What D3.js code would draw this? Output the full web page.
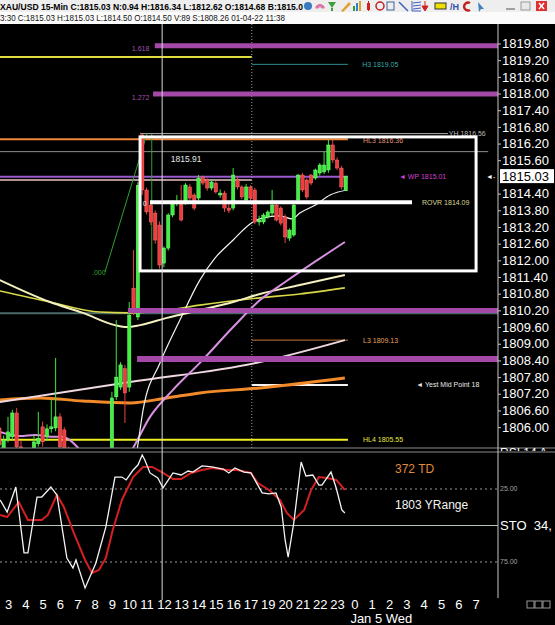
<!DOCTYPE html>
<html>
<head>
<meta charset="utf-8">
<script src="https://cdn.jsdelivr.net/npm/d3@7"></script>
<style>
html, body { margin: 0; padding: 0; background: #000; }
svg { display: block; font-family: "Liberation Sans", Arial, sans-serif; }
</style>
</head>
<body>
<div id="chart"></div>
<script>
// ---- data ----
var headerTitle = "XAU/USD  15-Min  C:1815.03  N:0.94  H:1816.34  L:1812.62  O:1814.68  B:1815.0";
var headerBar = "3:30  C:1815.03  H:1815.03  L:1814.50  O:1814.50  V:89  S:1808.26  01-04-22  11:38";

var hourLabels = ["3","4","5","6","7","8","9","10","11","12","13","14","15","16","17",
                  "19","20","21","22","23","0","1","2","3","4","5","6","7"];
var priceTicks = [1819.80,1819.20,1818.60,1818.00,1817.40,1816.80,1816.20,1815.60,
                  1814.40,1813.80,1813.20,1812.60,1812.00,1811.40,1810.80,1810.20,
                  1809.60,1809.00,1808.40,1807.80,1807.20,1806.60,1806.00];
var lastPrice = 1815.03;

// 15-min bars, first bar is slot -2 (slot 0 = 03:00)
var firstSlot = -2;
var opens  = [1805.97,1805.20,1805.54,1805.65,1806.51,1805.29,1805.00,1804.70,1804.90,1805.40,1806.01,1805.65,1805.94,1805.97,1806.37,1805.90,
              1805.20,1804.60,1804.20,1803.90,1803.50,1803.10,1803.40,1803.80,1804.20,1804.50,1804.80,1807.09,1807.44,1808.10,1807.44,1811.00,
              1809.96,1816.51,1814.53,1813.99,1813.70,1813.27,1811.90,1812.44,1813.63,1814.06,1814.10,1814.10,1814.64,1814.35,1814.24,1815.00,
              1814.89,1814.60,1814.78,1814.35,1814.42,1813.88,1813.88,1814.89,1814.64,1814.17,1814.64,1814.53,1813.38,1813.38,1813.56,1813.70,
              1813.99,1813.88,1813.56,1812.80,1812.91,1814.17,1815.07,1814.89,1815.07,1814.96,1815.14,1815.18,1815.25,1816.15,1815.61,1815.32,1814.50];
var highs  = [1807.16,1805.70,1806.37,1806.62,1806.69,1805.50,1805.20,1805.20,1805.72,1806.55,1806.20,1806.10,1806.98,1808.49,1806.50,1806.00,
              1805.30,1804.90,1804.50,1804.30,1803.80,1803.60,1804.00,1804.40,1804.80,1805.00,1807.27,1809.85,1808.34,1808.24,1810.50,1812.37,
              1814.81,1816.56,1814.62,1814.10,1813.80,1813.40,1812.50,1813.70,1814.15,1814.35,1814.71,1814.78,1814.75,1814.42,1815.07,1815.05,
              1814.95,1814.90,1814.85,1814.55,1814.50,1814.05,1815.32,1815.00,1814.70,1814.75,1814.70,1814.60,1813.60,1813.70,1813.80,1814.53,
              1814.10,1813.95,1813.65,1813.15,1814.05,1815.10,1815.15,1814.95,1815.10,1815.30,1815.50,1815.90,1816.34,1816.33,1815.70,1815.40,1815.03];
var lows   = [1805.18,1805.10,1805.45,1805.54,1805.18,1804.80,1804.40,1804.50,1804.80,1805.30,1805.30,1805.50,1805.80,1805.85,1805.10,1804.90,
              1804.40,1804.00,1803.60,1803.30,1802.90,1802.70,1803.20,1803.50,1803.90,1804.20,1804.70,1806.98,1807.34,1806.15,1807.27,1810.03,
              1809.85,1814.35,1813.65,1813.27,1812.60,1811.70,1811.75,1812.35,1813.55,1813.95,1813.40,1814.00,1814.15,1813.80,1814.15,1814.70,
              1814.50,1814.52,1814.40,1814.25,1813.74,1813.70,1813.80,1814.55,1814.20,1814.10,1814.15,1813.30,1813.25,1813.30,1813.50,1813.60,
              1813.40,1813.25,1812.62,1812.70,1812.85,1814.05,1814.45,1814.20,1814.70,1814.90,1815.05,1815.10,1815.15,1815.50,1815.25,1814.55,1814.50];
var closes = [1805.36,1805.54,1805.83,1806.51,1805.29,1805.00,1804.70,1805.00,1805.47,1805.60,1805.47,1805.94,1806.01,1806.37,1805.29,1805.18,
              1804.60,1804.20,1803.90,1803.50,1803.10,1803.40,1803.80,1804.20,1804.50,1804.80,1807.05,1807.80,1808.24,1807.23,1810.03,1810.21,
              1814.70,1814.53,1813.74,1813.38,1812.73,1811.83,1812.44,1813.63,1814.06,1814.12,1813.45,1814.71,1814.24,1813.88,1814.96,1814.78,
              1814.60,1814.82,1814.46,1814.42,1813.88,1813.80,1815.07,1814.64,1814.28,1814.64,1814.24,1813.38,1813.45,1813.63,1813.74,1813.99,
              1813.45,1813.34,1812.84,1813.09,1813.99,1815.07,1814.53,1814.28,1814.78,1815.25,1815.43,1815.43,1816.15,1815.61,1815.32,1814.64,1815.03];

// moving averages, [slot, price]
var maCream  = [[-1.9,1811.29],[9.7,1810.50],[17.3,1810.11],[24.7,1809.67],[27.5,1809.60],[30.5,1809.67],[36.7,1809.93],[44.3,1810.21],[52,1810.50],[58.2,1810.79],[67.4,1811.11],[77.8,1811.47]];
var maYellow = [[-1.9,1810.90],[9.7,1810.50],[21.2,1810.14],[28.2,1810.11],[36.7,1810.21],[44.3,1810.39],[58.2,1810.65],[67.4,1810.79],[77.8,1811.01]];
var maOrange = [[-1.9,1806.98],[7.4,1807.05],[17.3,1806.94],[28.2,1806.87],[36.7,1807.05],[44.3,1807.23],[58.2,1807.41],[77.8,1807.77]];
var maPink   = [[-1.9,1806.90],[28.2,1807.62],[58.2,1808.34],[77.8,1809.13]];
var maLavender = [[-1.9,1805.83],[2.8,1805.68],[6.2,1805.72],[10.9,1805.65],[12.5,1805.65],[14.8,1805.47],[16.6,1805.18],[20.1,1804.46],[24.7,1804.39],
                  [28.6,1805.18],[32.8,1806.37],[38.1,1807.34],[44.3,1808.31],[52,1809.60],[58.2,1810.57],[64,1811.22],[77.8,1812.66]];
var maWhite  = [[27.7,1803.74],[29.8,1805.18],[31.2,1806.62],[35.1,1808.31],[39.7,1809.85],[44.3,1811.29],[47.8,1812.08],[52,1812.73],[55.9,1813.31],
                [58.7,1813.52],[62.8,1813.60],[65.6,1813.49],[67.4,1813.70],[71,1813.99],[74.4,1814.35],[78.3,1814.53]];

// horizontal levels
var levels = [
  { name: "fib1618",  price: 1819.72, label: "1.618" },
  { name: "prevLine", price: 1819.31, label: "" },
  { name: "H3",       price: 1819.05, label: "H3 1819.05" },
  { name: "fib1272",  price: 1817.98, label: "1.272" },
  { name: "YH",       price: 1816.56, label: "YH 1816.56" },
  { name: "HL3",      price: 1816.36, label: "HL3 1816.36" },
  { name: "prevClose",price: 1815.91, label: "1815.91" },
  { name: "WP",       price: 1815.01, label: "\u25C4  WP 1815.01" },
  { name: "pinkLine", price: 1814.89, label: "" },
  { name: "ROVR",     price: 1814.09, label: "ROVR 1814.09" },
  { name: "tealLine", price: 1810.10, label: "" },
  { name: "bar1810",  price: 1810.20, label: "" },
  { name: "L3",       price: 1809.13, label: "L3 1809.13" },
  { name: "bar1808",  price: 1808.45, label: "" },
  { name: "YMid",     price: 1807.52, label: "\u25C4 Yest Mid Point 18" },
  { name: "HL4",      price: 1805.55, label: "HL4 1805.55" }
];
var boxPrices = [1816.44, 1811.62];
var fibPrices = [1811.58, 1816.55];

// stochastic (inverted scale as on the chart), [slot, value]
var stoK = [[-1.8,32.5],[-0.2,40.8],[1.8,23.6],[3.7,68.8],[4.6,68.8],[6.7,30.5],[7.8,30.5],[9.9,23.6],[11.3,29.1],[13.6,72.3],[15,79.1],[15.7,73.6],
            [17.8,92.8],[20.3,75.7],[22.6,51],[24.7,16.8],[26.3,16.8],[27.3,18.8],[28.9,12],[30,8.6],[31,1.7],[31.6,5.1],[32.8,14],[34.6,17.5],
            [35.8,24.3],[38.1,14],[40,15.4],[41.6,12.7],[42.7,13.4],[44.8,9.2],[47.1,9.9],[49.7,11.3],[51,14],[52.4,10.6],[54.5,13.4],[56.1,14],
            [58.7,27.7],[60.3,28.4],[61.9,27.7],[63.1,37.3],[64,59.9],[64.7,71.6],[66,48.3],[67.7,6.5],[68.8,16.1],[70.4,15.4],[71.8,22.3],
            [72.5,22.3],[74.6,13.4],[75.8,24.3],[77.1,39.4],[77.8,41.4]];
var stoD = [[-1.8,42.8],[-0.2,44.2],[2.5,33.9],[4.6,46.2],[7.8,46.2],[9.2,42.8],[11.3,29.1],[12.9,37.3],[15.2,55.1],[17.8,73.6],[19.4,82.5],
            [21,80.5],[22.6,72.3],[24.2,53.1],[26.3,32.5],[28.9,16.8],[31.2,9.9],[33.3,9.9],[35.8,14],[38.1,18.2],[40,18.2],[42.3,14],[44.8,12],
            [47.1,10.6],[50.6,12],[52.9,12],[56.1,14],[57.7,20.9],[60.3,25.7],[62.8,32.5],[64.4,41.4],[66,46.2],[68.4,39.4],[70,25.7],[71.8,16.8],
            [73.7,17.5],[75.8,18.8],[77.8,25.7]];
var stoGrid = [25, 50, 75];
var sideNotes = ["372 TD", "1803 YRange"];

// ---- layout ----
var W = 555, H = 625, axisX = 498;
var svg = d3.select("#chart").append("svg").attr("width", W).attr("height", H);
svg.append("rect").attr("width", W).attr("height", H).attr("fill", "#000");

var x = d3.scaleLinear().domain([0, 112]).range([8, 8 + 112 * 4.33]);
var y = d3.scaleLinear().domain([1819.8, 1806.0]).range([43.5, 43.5 + 13.8 * 27.8]);
var ys = d3.scaleLinear().domain([0, 100]).range([452.5, 598.5]);

var defs = svg.append("defs");
defs.append("clipPath").attr("id", "mainClip").append("rect")
    .attr("x", 0).attr("y", 24).attr("width", axisX).attr("height", 424);
defs.append("clipPath").attr("id", "stoClip").append("rect")
    .attr("x", 0).attr("y", 453).attr("width", axisX).attr("height", 145);
defs.append("clipPath").attr("id", "rsiClip").append("rect")
    .attr("x", axisX).attr("y", 440).attr("width", 60).attr("height", 11);

// header rows
svg.append("rect").attr("width", W).attr("height", 12).attr("fill", "#eeeeee");
svg.append("rect").attr("y", 12).attr("width", W).attr("height", 12).attr("fill", "#fbfbfb");
svg.append("text").attr("x", 0).attr("y", 9.5).attr("font-size", 9.5).attr("font-weight", "bold")
    .attr("textLength", 303).attr("lengthAdjust", "spacingAndGlyphs").attr("fill", "#000").text(headerTitle);
svg.append("text").attr("x", 0).attr("y", 20.5).attr("font-size", 8.5)
    .attr("textLength", 285).attr("lengthAdjust", "spacingAndGlyphs").attr("fill", "#111").text(headerBar);

// toolbar icons (decoration)
var tb = svg.append("g");
tb.append("circle").attr("cx", 308).attr("cy", 6).attr("r", 4).attr("fill", "#3a7ac0");
[4, 3, 2].forEach(function(r) {
  tb.append("path").attr("d", d3.arc()({ innerRadius: r, outerRadius: r + 0.8, startAngle: -1.4, endAngle: 1.4 }))
    .attr("transform", "translate(320,9)").attr("fill", "#d04080");
});
tb.append("path").attr("d", "M328,2 L336,2 L332,8 Z M331,8 h2 v3 h-2 Z").attr("fill", "#3aa03a");
tb.append("path").attr("d", "M341,11 L349,2 L351,4 L343,12 Z").attr("fill", "#e0a030");
tb.append("rect").attr("x", 353).attr("y", 6).attr("width", 2).attr("height", 5).attr("fill", "#3a9a3a");
tb.append("rect").attr("x", 356).attr("y", 3).attr("width", 2).attr("height", 8).attr("fill", "#3080d0");
tb.append("rect").attr("x", 359).attr("y", 1).attr("width", 2).attr("height", 10).attr("fill", "#e0a020");
tb.append("rect").attr("x", 367).attr("y", 3).attr("width", 3).attr("height", 7).attr("fill", "#d02020");
tb.append("line").attr("x1", 368.5).attr("x2", 368.5).attr("y1", 1).attr("y2", 11).attr("stroke", "#d02020");
tb.append("circle").attr("cx", 380).attr("cy", 6).attr("r", 4).attr("fill", "none").attr("stroke", "#c02020").attr("stroke-width", 1.5);
tb.append("rect").attr("x", 387).attr("y", 2).attr("width", 7).attr("height", 8).attr("fill", "none").attr("stroke", "#4060a0");
tb.append("line").attr("x1", 399).attr("y1", 2).attr("x2", 408).attr("y2", 11).attr("stroke", "#4060c0").attr("stroke-width", 1.5);
tb.append("path").attr("d", "M412,1 v10 h9 M413,3 L421,2 M413,6 L421,5 M413,9 L421,8").attr("fill", "none").attr("stroke", "#4060c0");
tb.append("path").attr("d", "M425,1 v6 M422,6 L425,11 L428,6 Z").attr("fill", "#d02020").attr("stroke", "#d02020");
tb.append("rect").attr("x", 435).attr("y", 3).attr("width", 11).attr("height", 6).attr("fill", "#f0e000").attr("stroke", "#333");
tb.append("text").attr("x", 450).attr("y", 10).attr("font-size", 9).attr("font-weight", "bold").attr("fill", "#3050b0").text("/H");
tb.append("path").attr("d", "M470,3 A4,4 0 1,0 470,10").attr("fill", "none").attr("stroke", "#c02020").attr("stroke-width", 2.5);
tb.append("path").attr("d", "M478,2 L484,9 L481,9 L479,12 Z").attr("fill", "#4080c0");
tb.append("rect").attr("x", 506).attr("y", 8).attr("width", 9).attr("height", 2).attr("fill", "#a0a0a0");
tb.append("rect").attr("x", 521).attr("y", 2).attr("width", 9).attr("height", 8).attr("fill", "#e8e8e8").attr("stroke", "#999");
tb.append("rect").attr("x", 536).attr("y", 1).attr("width", 11).attr("height", 10).attr("fill", "#e03030");
tb.append("path").attr("d", "M539,3 L544,9 M544,3 L539,9").attr("stroke", "#fff").attr("stroke-width", 1.5);

// ---- main price panel ----
var main = svg.append("g").attr("clip-path", "url(#mainClip)");

var levelStyle = {
  fib1618:  { from: 33.9, to: 113.2, color: "#a449a8", w: 5, top: true,  lx: 28.6, lc: "#a050b0", dy: 3 },
  prevLine: { from: -2,   to: 56.3,  color: "#e0dc3c", w: 2 },
  H3:       { from: 56.3, to: 78.5,  color: "#2f8f8f", w: 1,   lx: 81.8, lc: "#3aa8a8" },
  fib1272:  { from: 33.5, to: 113.2, color: "#a449a8", w: 5, top: true,  lx: 28.6, lc: "#a050b0", dy: 3 },
  YH:       { from: 30.5, to: 101.6, color: "#a8a8a8", w: 1,   lx: 101.8, lc: "#b8b8b8" },
  HL3:      { from: -2,   to: 78.5,  color: "#f0873a", w: 2,   lx: 82.0, lc: "#e09070", dy: 1 },
  prevClose:{ from: -2,   to: 110.9, color: "#909090", w: 1,   lx: 37.6, lc: "#e8e8e8", dy: 7 },
  WP:       { from: -2,   to: 78.5,  color: "#9a5ad0", w: 2,   lx: 90.3, lc: "#d040d0" },
  pinkLine: { from: -2,   to: 56.3,  color: "#e8c4c4", w: 1.5 },
  ROVR:     { from: 32.8, to: 93.3,  color: "#ffffff", w: 4, top: true,  lx: 95.6, lc: "#d8d890" },
  tealLine: { from: -2,   to: 113.2, color: "#4a6a6a", w: 2 },
  bar1810:  { from: 27.7, to: 113.2, color: "#a449a8", w: 5, top: true },
  L3:       { from: 56.3, to: 78.5,  color: "#c87838", w: 1,   lx: 82.0, lc: "#e0a060" },
  bar1808:  { from: 29.8, to: 113.2, color: "#a449a8", w: 6, top: true },
  YMid:     { from: 56.3, to: 78.5,  color: "#f4f4f4", w: 2,   lx: 94.3, lc: "#e8e8e8" },
  HL4:      { from: -2,   to: 78.5,  color: "#f0f020", w: 2,   lx: 82.0, lc: "#e8e840" }
};

function drawLevels(g, onTop) {
  g.selectAll(null)
    .data(levels.filter(function(d) { return !!levelStyle[d.name].top === onTop; }))
    .enter().append("line")
    .attr("x1", function(d) { return x(levelStyle[d.name].from); })
    .attr("x2", function(d) { return x(levelStyle[d.name].to); })
    .attr("y1", function(d) { return y(d.price); })
    .attr("y2", function(d) { return y(d.price); })
    .attr("stroke", function(d) { return levelStyle[d.name].color; })
    .attr("stroke-width", function(d) { return levelStyle[d.name].w; });
}
drawLevels(main, false);

// vertical markers: day break (dotted)
main.append("line").attr("x1", x(56.3)).attr("x2", x(56.3)).attr("y1", 24).attr("y2", 448)
    .attr("stroke", "#9a9a9a").attr("stroke-dasharray", "1,2");

// fib tool
main.append("line").attr("x1", x(22.4)).attr("y1", y(fibPrices[0])).attr("x2", x(32.1)).attr("y2", y(fibPrices[1]))
    .attr("stroke", "#2fa02f").attr("stroke-width", 1);
main.append("line").attr("x1", x(33.2)).attr("x2", x(33.2)).attr("y1", y(fibPrices[1])).attr("y2", y(boxPrices[1]))
    .attr("stroke", "#2fa02f").attr("stroke-width", 1);

// moving averages
var maLine = d3.line().x(function(d) { return x(d[0]); }).y(function(d) { return y(d[1]); }).curve(d3.curveMonotoneX);
[[maOrange, "#f08a2a", 3], [maPink, "#f0d8e0", 2], [maYellow, "#d8d848", 1.6], [maCream, "#f4f0c0", 2],
 [maLavender, "#d890e0", 2], [maWhite, "#f4f4f4", 1.2]].forEach(function(m) {
  main.append("path").attr("d", maLine(m[0])).attr("fill", "none").attr("stroke", m[1]).attr("stroke-width", m[2]);
});

// candles
var candles = opens.map(function(o, i) {
  return { slot: firstSlot + i, o: o, h: highs[i], l: lows[i], c: closes[i] };
});
var cg = main.selectAll(".candle").data(candles).enter().append("g").attr("class", "candle");
cg.append("line")
  .attr("x1", function(d) { return x(d.slot); }).attr("x2", function(d) { return x(d.slot); })
  .attr("y1", function(d) { return y(d.h); }).attr("y2", function(d) { return y(d.l); })
  .attr("stroke", function(d) { return d.c >= d.o ? "#3ee83e" : "#f04040"; }).attr("stroke-width", 1);
cg.append("rect")
  .attr("x", function(d) { return x(d.slot) - 1.7; })
  .attr("width", 3.4)
  .attr("y", function(d) { return y(Math.max(d.o, d.c)); })
  .attr("height", function(d) { return Math.max(1, Math.abs(y(d.o) - y(d.c))); })
  .attr("fill", function(d) { return d.c >= d.o ? "#40f040" : "#f03c3c"; })
  .attr("stroke", function(d) { return d.c >= d.o ? "#90ff90" : "#ff8080"; })
  .attr("stroke-width", 0.4);

// labels drawn before the box so the box can cover them
main.selectAll(null).data(levels.filter(function(d) { return d.label && levelStyle[d.name].lx !== undefined; }))
  .enter().append("text")
  .attr("x", function(d) { return x(levelStyle[d.name].lx); })
  .attr("y", function(d) { return y(d.price) + (levelStyle[d.name].dy || 0); })
  .attr("dy", "0.35em")
  .attr("font-size", function(d) { return d.name === "prevClose" ? 8.5 : 7; })
  .attr("fill", function(d) { return levelStyle[d.name].lc; })
  .text(function(d) { return d.label; });
main.append("text").attr("x", 92).attr("y", y(fibPrices[0]) + 1).attr("dy", "0.35em")
    .attr("font-size", 7).attr("fill", "#2fa02f").text(".000");
main.append("text").attr("x", x(31.1)).attr("y", y(levels[9].price) + 1).attr("dy", "0.35em")
    .attr("font-size", 7).attr("fill", "#e8e8e8").text("0");

drawLevels(main, true);

// consolidation box
main.append("rect")
  .attr("x", x(30.5)).attr("y", y(boxPrices[0]))
  .attr("width", x(108.1) - x(30.5)).attr("height", y(boxPrices[1]) - y(boxPrices[0]))
  .attr("fill", "none").attr("stroke", "#ffffff").attr("stroke-width", 3);

// panel separators
[448, 452].forEach(function(v) {
  svg.append("line").attr("x1", 0).attr("x2", W).attr("y1", v).attr("y2", v).attr("stroke", "#8a8a8a").attr("stroke-width", 1);
});

// price axis
var yAxis = d3.axisRight(y).tickValues(priceTicks).tickSize(3).tickFormat(d3.format(".2f"));
var ay = svg.append("g").attr("transform", "translate(" + axisX + ",0)").call(yAxis);
ay.select(".domain").remove();
ay.selectAll("line").attr("stroke", "#c8c8c8");
ay.selectAll("text").attr("fill", "#ffffff").attr("font-size", 13).attr("x", 4)
  .attr("font-family", "\"Liberation Sans\", Arial, sans-serif");
svg.append("line").attr("x1", axisX).attr("x2", axisX).attr("y1", 24).attr("y2", 598).attr("stroke", "#c8c8c8");

// last price tag
svg.append("rect").attr("x", axisX + 2).attr("y", y(lastPrice) - 7).attr("width", 54).attr("height", 14).attr("fill", "#ffffff");
svg.append("text").attr("x", axisX + 4).attr("y", y(lastPrice)).attr("dy", "0.36em").attr("font-size", 13)
   .attr("fill", "#000").text(d3.format(".2f")(lastPrice));
svg.append("text").attr("x", axisX - 12).attr("y", y(lastPrice)).attr("dy", "0.35em").attr("font-size", 7)
   .attr("fill", "#ffffff").text("\u25C4-");

svg.append("text").attr("x", axisX + 2).attr("y", 457).attr("font-size", 12).attr("fill", "#ffffff")
   .attr("clip-path", "url(#rsiClip)").text("RSI  14  A");

// ---- stochastic panel ----
var sto = svg.append("g").attr("clip-path", "url(#stoClip)");
sto.selectAll(null).data(stoGrid).enter().append("line")
  .attr("x1", 0).attr("x2", axisX)
  .attr("y1", function(d) { return ys(d); }).attr("y2", function(d) { return ys(d); })
  .attr("stroke", function(d) { return d === 50 ? "#b8c8b8" : "#9a9a9a"; })
  .attr("stroke-dasharray", function(d) { return d === 50 ? null : "2,3"; });
var stoLine = d3.line().x(function(d) { return x(d[0]); }).y(function(d) { return ys(d[1]); });
sto.append("path").attr("d", stoLine(stoD)).attr("fill", "none").attr("stroke", "#d42020").attr("stroke-width", 2);
sto.append("path").attr("d", stoLine(stoK)).attr("fill", "none").attr("stroke", "#f4f4f4").attr("stroke-width", 1.3);
sto.append("text").attr("x", 395).attr("y", 473).attr("font-size", 12).attr("fill", "#e08a3a").text(sideNotes[0]);
sto.append("text").attr("x", 395).attr("y", 509).attr("font-size", 12).attr("fill", "#f4f4f4").text(sideNotes[1]);

svg.selectAll(null).data([25, 75]).enter().append("text")
  .attr("x", axisX + 2).attr("y", function(d) { return ys(d); }).attr("dy", "0.35em")
  .attr("font-size", 7).attr("fill", "#a0a0a0").text(function(d) { return d3.format(".2f")(d); });
svg.append("text").attr("x", axisX + 2).attr("y", ys(50)).attr("dy", "0.36em")
   .attr("font-size", 13).attr("fill", "#ffffff").attr("xml:space", "preserve").text("STO  34,");

// crosshair through both panels
svg.append("line").attr("x1", x(35.6)).attr("x2", x(35.6)).attr("y1", 24).attr("y2", 600)
   .attr("stroke", "#d8d8d8").attr("stroke-width", 1);

// ---- time axis ----
var xAxis = d3.axisBottom(x).tickValues(d3.range(0, hourLabels.length * 4, 4)).tickSize(0)
  .tickFormat(function(d, i) { return hourLabels[i]; });
var ax = svg.append("g").attr("transform", "translate(0,598)").call(xAxis);
ax.select(".domain").remove();
ax.selectAll("text").attr("fill", "#ffffff").attr("font-size", 13).attr("y", 2).attr("dy", "0.71em")
  .attr("font-family", "\"Liberation Sans\", Arial, sans-serif");
svg.append("text").attr("x", x(80) - 4).attr("y", 623).attr("font-size", 13).attr("fill", "#ffffff").text("Jan 5 Wed");
[527, 535, 543].forEach(function(v) {
  svg.append("rect").attr("x", v).attr("y", 601).attr("width", 7).attr("height", 7)
     .attr("fill", "none").attr("stroke", "#9a9a9a");
});
</script>
</body>
</html>
